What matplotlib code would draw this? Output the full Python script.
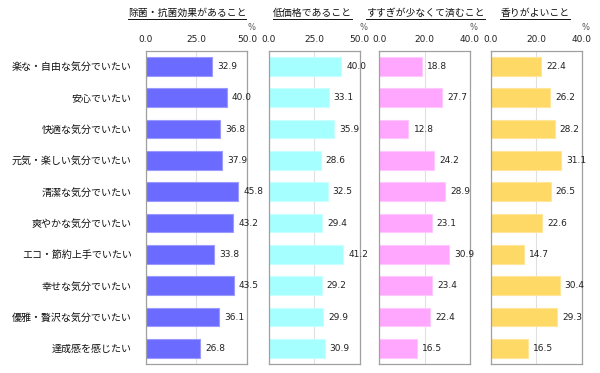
import matplotlib
matplotlib.use("Agg")
import matplotlib.pyplot as plt
from matplotlib.lines import Line2D

plt.rcParams['font.family'] = ['Noto Sans CJK JP', 'DejaVu Sans']

categories = ["楽な・自由な気分でいたい", "安心でいたい", "快適な気分でいたい",
              "元気・楽しい気分でいたい", "清潔な気分でいたい", "爽やかな気分でいたい",
              "エコ・節約上手でいたい", "幸せな気分でいたい", "優雅・贅沢な気分でいたい",
              "達成感を感じたい"]
titles = ["除菌・抗菌効果があること", "低価格であること", "すすぎが少なくて済むこと", "香りがよいこと"]
antibac = [32.9, 40.0, 36.8, 37.9, 45.8, 43.2, 33.8, 43.5, 36.1, 26.8]
low_price = [40.0, 33.1, 35.9, 28.6, 32.5, 29.4, 41.2, 29.2, 29.9, 30.9]
less_rinse = [18.8, 27.7, 12.8, 24.2, 28.9, 23.1, 30.9, 23.4, 22.4, 16.5]
fragrance = [22.4, 26.2, 28.2, 31.1, 26.5, 22.6, 14.7, 30.4, 29.3, 16.5]
xmax = [50, 50, 40, 40]
xticks = [[0, 25, 50], [0, 25, 50], [0, 20, 40], [0, 20, 40]]

series = [antibac, low_price, less_rinse, fragrance]
colors = ["#6B6BFF", "#A6FFFF", "#FFA6FF", "#FFD966"]
edges = ["#9A9AFF", "#C8FFFF", "#FFC8FF", "#FFE699"]
# axes positions in pixels (left, right), title centres
xpos = [(145.5, 247), (268.5, 359.5), (379.5, 470), (490.5, 581.5)]
title_x = [187, 312.5, 425.5, 535]
W, H = 600, 373
top, bottom = 50.7, 364
num_font = "DejaVu Sans"

fig = plt.figure(figsize=(6, 3.73), dpi=100)
renderer = fig.canvas.get_renderer()
n = len(categories)
for i, (vals, c, ec, (l, r)) in enumerate(zip(series, colors, edges, xpos)):
    ax = fig.add_axes([l / W, 1 - bottom / H, (r - l) / W, (bottom - top) / H])
    y = list(range(n))
    ax.barh(y, vals, height=0.6, color=c, edgecolor=ec, linewidth=0.8, zorder=2)
    ax.set_ylim(n - 0.5, -0.5)
    ax.set_xlim(0, xmax[i])
    ax.set_xticks(xticks[i])
    ax.set_xticklabels([f"{t:.1f}" for t in xticks[i]], fontsize=6.5, color="#222222",
                       family=num_font)
    ax.xaxis.tick_top()
    ax.tick_params(axis="x", length=0, pad=5)
    ax.grid(axis="x", color="#E0E0E0", linewidth=0.8, zorder=0)
    for s in ax.spines.values():
        s.set_color("#A0A0A0")
        s.set_linewidth(0.9)
    if i == 0:
        ax.set_yticks(y)
        ax.set_yticklabels(categories, fontsize=7.2, color="#111111")
        ax.tick_params(axis="y", length=0, pad=10)
    else:
        ax.set_yticks([])
    for yy, v in zip(y, vals):
        ax.annotate(f"{v:.1f}", (v, yy), xytext=(3.6, 0), textcoords="offset points",
                    va="center", ha="left", fontsize=6.5, color="#222222", zorder=3,
                    family=num_font)
    fig.text((r + 4) / W, 1 - 28 / H, "%", ha="center", va="center", fontsize=6,
             color="#555555", family=num_font)
    t = fig.text(title_x[i] / W, 1 - 13 / H, titles[i],
                 ha="center", va="center", fontsize=7.1, color="#111111")
    bb = t.get_window_extent(renderer=renderer)
    yline = (bb.y0 - 1) / fig.bbox.height
    fig.add_artist(Line2D([bb.x0 / fig.bbox.width, bb.x1 / fig.bbox.width], [yline, yline],
                          color="#111111", linewidth=0.7))

fig.savefig("out.png", dpi=100)
